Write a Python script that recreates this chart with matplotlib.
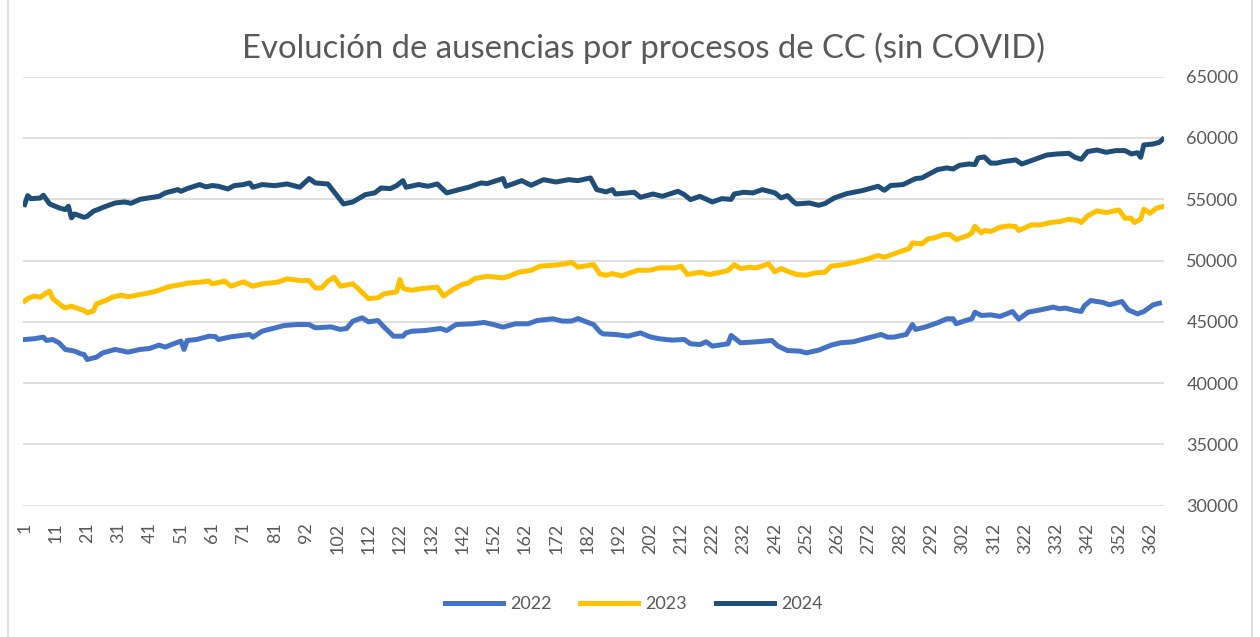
import numpy as np
import matplotlib.pyplot as plt
from matplotlib.lines import Line2D

plt.rcParams['font.family'] = ['Lato', 'DejaVu Sans']

# Data (category index -> value), 365 days per year
days_2022 = [0, 3, 6, 7, 9, 11, 13, 16, 18, 19, 20, 23, 25, 29, 33, 37, 40, 43, 45, 47,
             50, 51, 52, 55, 59, 61, 62, 66, 70, 72, 73, 76, 81, 83, 87, 91, 93, 98, 101, 103,
             105, 108, 110, 113, 115, 118, 121, 122, 124, 128, 133, 135, 138, 143, 147, 150, 153, 157, 161, 164,
             169, 172, 175, 177, 180, 182, 184, 185, 189, 193, 197, 200, 203, 207, 211, 213, 216, 218, 220, 225,
             226, 229, 234, 239, 241, 244, 248, 250, 254, 258, 261, 265, 269, 274, 276, 278, 282, 284, 285, 288,
             292, 295, 297, 298, 301, 303, 304, 306, 309, 312, 316, 318, 321, 325, 329, 331, 333, 336, 338, 339,
             341, 345, 347, 351, 353, 356, 358, 361, 363]
vals_2022 = [43560, 43620, 43750, 43480, 43560, 43290, 42750, 42610, 42390, 42340, 41930, 42120, 42470, 42750, 42530, 42750, 42830, 43100, 42940, 43150,
             43430, 42750, 43480, 43560, 43830, 43800, 43560, 43780, 43910, 43970, 43750, 44240, 44570, 44700, 44780, 44780, 44510, 44590, 44380, 44460,
             45060, 45330, 45000, 45110, 44570, 43830, 43830, 44100, 44240, 44290, 44460, 44290, 44780, 44840, 44950, 44780, 44570, 44840, 44840, 45110,
             45250, 45060, 45060, 45270, 44970, 44780, 44190, 44020, 43970, 43830, 44100, 43780, 43620, 43510, 43560, 43210, 43150, 43370, 43020, 43210,
             43890, 43290, 43370, 43480, 43020, 42660, 42610, 42470, 42690, 43100, 43290, 43370, 43640, 43970, 43750, 43750, 43970, 44780, 44380, 44570,
             44920, 45250, 45250, 44840, 45110, 45250, 45790, 45520, 45570, 45440, 45840, 45220, 45790, 45980, 46200, 46070, 46120, 45930, 45850, 46310,
             46740, 46580, 46390, 46660, 45980, 45650, 45840, 46390, 46520]

days_2023 = [0, 1, 3, 5, 7, 8, 9, 10, 12, 13, 15, 17, 19, 20, 22, 23, 26, 28, 31, 33,
             36, 40, 43, 46, 49, 52, 57, 59, 60, 64, 66, 70, 73, 76, 81, 84, 88, 91, 93, 95,
             97, 99, 101, 105, 107, 110, 113, 115, 119, 120, 121, 122, 124, 127, 132, 134, 137, 140, 142, 144,
             148, 153, 155, 158, 162, 165, 169, 173, 175, 177, 182, 184, 186, 188, 191, 196, 200, 203, 208, 210,
             212, 216, 219, 225, 227, 229, 232, 234, 238, 240, 242, 244, 247, 250, 253, 256, 258, 262, 266, 269,
             273, 275, 279, 283, 284, 287, 289, 291, 294, 296, 298, 302, 303, 304, 306, 307, 309, 312, 315, 317,
             318, 322, 325, 328, 331, 334, 337, 338, 340, 343, 346, 350, 352, 354, 355, 357, 358, 360, 362, 364]
vals_2023 = [46690, 46900, 47100, 47010, 47370, 47500, 46900, 46690, 46280, 46140, 46280, 46090, 45930, 45740, 45880, 46470, 46740, 47010, 47180, 47040,
             47180, 47370, 47580, 47860, 47990, 48150, 48260, 48320, 48100, 48320, 47910, 48260, 47910, 48100, 48240, 48510, 48370, 48370, 47770, 47770,
             48320, 48640, 47910, 48100, 47640, 46900, 46960, 47280, 47450, 48450, 47770, 47650, 47580, 47720, 47830, 47100, 47640, 48050, 48180, 48530,
             48720, 48590, 48720, 49050, 49210, 49540, 49620, 49730, 49860, 49460, 49670, 48910, 48800, 48940, 48750, 49210, 49210, 49400, 49400, 49540,
             48860, 49050, 48860, 49180, 49670, 49350, 49460, 49400, 49730, 49080, 49350, 49130, 48860, 48810, 49000, 49050, 49540, 49670, 49890, 50080,
             50410, 50270, 50630, 50980, 51440, 51360, 51770, 51850, 52120, 52120, 51710, 52070, 52260, 52800, 52260, 52450, 52370, 52720, 52830, 52770,
             52450, 52910, 52910, 53100, 53180, 53370, 53260, 53100, 53640, 54050, 53910, 54130, 53450, 53450, 53100, 53370, 54190, 53860, 54270, 54400]

days_2024 = [0, 1, 2, 5, 6, 8, 11, 13, 14, 15, 16, 19, 20, 22, 26, 29, 32, 34, 37, 41,
             43, 45, 49, 50, 52, 56, 58, 60, 62, 65, 67, 70, 72, 73, 76, 80, 84, 88, 91, 93,
             97, 102, 105, 109, 112, 114, 117, 119, 121, 122, 126, 129, 132, 135, 139, 142, 146, 148, 153, 154,
             157, 159, 162, 166, 170, 174, 177, 181, 183, 186, 188, 189, 195, 197, 201, 204, 209, 211, 213, 216,
             220, 223, 226, 227, 230, 233, 236, 240, 242, 244, 246, 247, 251, 254, 256, 259, 263, 268, 273, 275,
             277, 281, 285, 287, 290, 292, 295, 297, 299, 302, 304, 305, 307, 309, 311, 313, 317, 319, 322, 324,
             327, 330, 334, 336, 338, 340, 343, 346, 349, 352, 354, 356, 357, 358, 361, 363, 364]
vals_2024 = [54570, 55300, 55050, 55100, 55330, 54620, 54300, 54160, 54430, 53480, 53800, 53530, 53610, 54020, 54430, 54700, 54780, 54670, 55000, 55160,
             55240, 55520, 55790, 55650, 55870, 56200, 56010, 56120, 56060, 55840, 56110, 56200, 56330, 55980, 56200, 56110, 56250, 55980, 56690, 56330,
             56250, 54620, 54780, 55380, 55520, 55920, 55870, 56110, 56520, 55980, 56200, 56060, 56250, 55520, 55790, 55980, 56330, 56280, 56690, 56060,
             56330, 56520, 56140, 56600, 56410, 56600, 56520, 56740, 55790, 55600, 55790, 55430, 55570, 55160, 55430, 55240, 55650, 55380, 54970, 55240,
             54780, 55050, 54990, 55430, 55570, 55520, 55790, 55520, 55110, 55300, 54780, 54620, 54700, 54510, 54650, 55110, 55460, 55710, 56060, 55730,
             56120, 56200, 56690, 56740, 57150, 57420, 57560, 57470, 57770, 57880, 57830, 58370, 58450, 57950, 57950, 58070, 58210, 57880, 58150, 58340,
             58610, 58690, 58750, 58420, 58260, 58890, 59020, 58830, 58970, 58970, 58700, 58800, 58420, 59430, 59510, 59650, 59890]

tick_labels = ['1', '11', '21', '31', '41', '51', '61', '71', '81', '92', '102', '112', '122',
               '132', '142', '152', '162', '172', '182', '192', '202', '212', '222', '232',
               '242', '252', '262', '272', '282', '292', '302', '312', '322', '332', '342',
               '352', '362']
n_days = 365

fig = plt.figure(figsize=(12.6, 6.37), dpi=100)
ax = fig.add_axes([0.0183, 0.2061, 0.9056, 0.6735])

ax.plot(days_2022, vals_2022, color='#4472C4', lw=3.6, label='2022', solid_joinstyle='round')
ax.plot(days_2023, vals_2023, color='#FFC000', lw=3.6, label='2023', solid_joinstyle='round')
ax.plot(days_2024, vals_2024, color='#1F4E79', lw=3.6, label='2024', solid_joinstyle='round')

ax.set_xlim(-0.5, n_days - 0.5)
ax.set_ylim(30000, 65000)
ax.set_yticks(np.arange(30000, 65001, 5000))
ax.yaxis.tick_right()
ax.tick_params(axis='y', length=0, pad=16, labelsize=13, labelcolor='#595959')
ax.set_xticks(np.arange(0, 361, 10))
ax.set_xticklabels(tick_labels, rotation=90)
ax.tick_params(axis='x', length=0, pad=12, labelsize=13, labelcolor='#595959')
ax.grid(axis='y', color='#D9D9D9', lw=1.2)
ax.set_axisbelow(True)
for s in ax.spines.values():
    s.set_visible(False)

fig.text(0.511, 0.925, 'Evolución de ausencias por procesos de CC (sin COVID)',
         ha='center', va='center', fontsize=23.7, color='#595959')

handles = [Line2D([], [], color=c, lw=3.6) for c in ['#4472C4', '#FFC000', '#1F4E79']]
fig.legend(handles, ['2022', '2023', '2024'], loc='center', bbox_to_anchor=(0.503, 0.052),
           ncol=3, frameon=False, fontsize=13, labelcolor='#595959',
           handlelength=3.2, handletextpad=0.4, columnspacing=1.6)

# light frame on the sides, as in the source
fig.add_artist(Line2D([8 / 1260, 8 / 1260], [0, 1], color='#D9D9D9', lw=1.2))
fig.add_artist(Line2D([1252 / 1260, 1252 / 1260], [0, 1], color='#D9D9D9', lw=1.2))

fig.savefig('out.png', dpi=100)
